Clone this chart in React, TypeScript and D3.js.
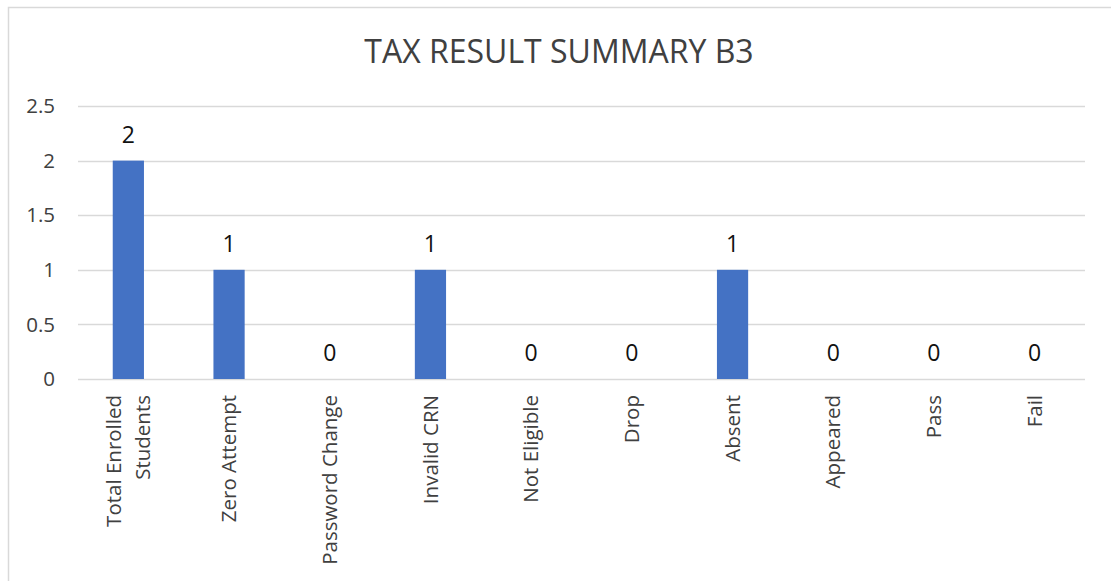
import React, { useRef, useEffect } from 'react';
import * as d3 from 'd3';

const categories = [
  'Total Enrolled Students', 'Zero Attempt', 'Password Change', 'Invalid CRN',
  'Not Eligible', 'Drop', 'Absent', 'Appeared', 'Pass', 'Fail',
];
const values = [2, 1, 0, 1, 0, 0, 1, 0, 0, 0];
const yTicks = [0, 0.5, 1, 1.5, 2, 2.5];
const title = 'TAX RESULT SUMMARY B3';

// labels that Excel wrapped onto two lines
const wrapped: Record<string, string[]> = {
  'Total Enrolled Students': ['Total Enrolled', 'Students'],
};

const App = () => {
  const svgRef = useRef<SVGSVGElement>(null);

  useEffect(() => {
    const width = 1111;
    const height = 581;
    const font = "'Open Sans', sans-serif";

    const svg = d3.select(svgRef.current);
    svg.selectAll('*').remove();
    svg.attr('width', width).attr('height', height);

    svg.append('rect').attr('width', width).attr('height', height).attr('fill', '#fff');

    // chart area border (runs off right/bottom of the capture)
    svg.append('path')
      .attr('d', `M${width},7.5 H8.5 V${height}`)
      .attr('fill', 'none')
      .attr('stroke', '#d9d9d9')
      .attr('stroke-width', 1.5);

    const x = d3.scaleBand<string>()
      .domain(categories)
      .range([78, 1085])
      .paddingInner(0.69)
      .paddingOuter(0.345);

    const y = d3.scaleLinear().domain([0, 2.5]).range([379, 106]);

    // title
    svg.append('text')
      .attr('x', 559)
      .attr('y', 63)
      .attr('text-anchor', 'middle')
      .attr('font-family', font)
      .attr('font-size', 32)
      .attr('fill', '#404040')
      .text(title);

    // gridlines
    svg.append('g')
      .selectAll('line')
      .data(yTicks)
      .join('line')
      .attr('x1', 78)
      .attr('x2', 1085)
      .attr('y1', d => Math.round(y(d)) + 0.5)
      .attr('y2', d => Math.round(y(d)) + 0.5)
      .attr('stroke', '#d9d9d9')
      .attr('stroke-width', 1.5);

    // y tick labels
    svg.append('g')
      .selectAll('text')
      .data(yTicks)
      .join('text')
      .attr('x', 55)
      .attr('y', d => y(d))
      .attr('dy', '0.35em')
      .attr('text-anchor', 'end')
      .attr('font-family', font)
      .attr('font-size', 20.5)
      .attr('fill', '#404040')
      .text(d => String(d));

    // bars
    svg.append('g')
      .selectAll('rect')
      .data(values)
      .join('rect')
      .attr('x', (d, i) => x(categories[i])!)
      .attr('width', x.bandwidth())
      .attr('y', d => y(d))
      .attr('height', d => y(0) - y(d))
      .attr('fill', '#4472c4');

    // data labels
    svg.append('g')
      .selectAll('text')
      .data(values)
      .join('text')
      .attr('x', (d, i) => x(categories[i])! + x.bandwidth() / 2)
      .attr('y', d => y(d) - 18)
      .attr('text-anchor', 'middle')
      .attr('font-family', font)
      .attr('font-size', 23)
      .attr('fill', '#111')
      .text(d => String(d));

    // category labels, rotated
    const lineH = 29;
    categories.forEach(c => {
      const lines = wrapped[c] || [c];
      const cx = x(c)! + x.bandwidth() / 2;
      lines.forEach((ln, j) => {
        const off = (j - (lines.length - 1) / 2) * lineH;
        svg.append('text')
          .attr('transform', `translate(${cx + off},395) rotate(-90)`)
          .attr('dy', '0.35em')
          .attr('text-anchor', 'end')
          .attr('font-family', font)
          .attr('font-size', 20.5)
          .attr('fill', '#404040')
          .text(ln);
      });
    });
  }, []);

  return <svg ref={svgRef} style={{ position: 'absolute', left: 0, top: 0, display: 'block' }}></svg>;
};

export default App;
